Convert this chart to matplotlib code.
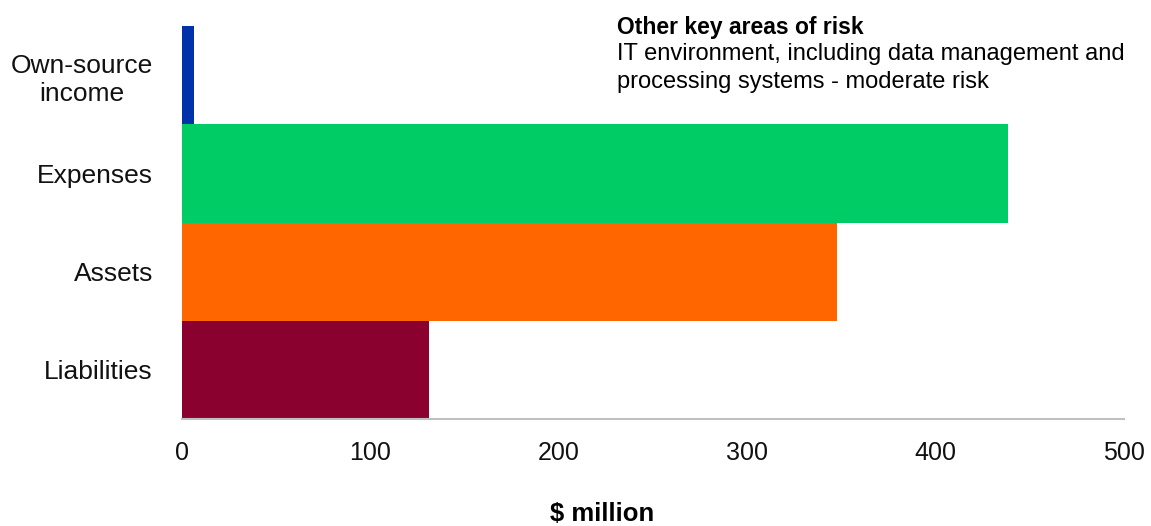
import matplotlib.pyplot as plt

plt.rcParams['font.family'] = ['Liberation Sans', 'DejaVu Sans']

# values in $ million, bottom to top
categories = ["Liabilities", "Assets", "Expenses", "Own-source\nincome"]
values = [131, 347.5, 438.5, 6.4]
colors = ["#8a002f", "#ff6600", "#00cc66", "#0033aa"]

fig = plt.figure(figsize=(11.51, 5.26), dpi=100)
ax = fig.add_axes([182 / 1151, 1 - 419 / 526, (1124 - 182) / 1151, (419 - 26) / 526])

ax.barh(range(len(categories)), values, height=1.0, color=colors)

ax.set_xlim(0, 500)
ax.set_ylim(-0.5, len(categories) - 0.5)
ax.set_xticks([0, 100, 200, 300, 400, 500])
ax.set_yticks(range(len(categories)))
ax.set_yticklabels(categories, multialignment="center", linespacing=1.25)
ax.tick_params(axis="both", length=0, colors="#111111")
ax.tick_params(axis="x", pad=16, labelsize=18)
ax.tick_params(axis="y", pad=21, labelsize=19)

for side in ["top", "right", "left"]:
    ax.spines[side].set_visible(False)
ax.spines["bottom"].set_color("#c0c0c0")
ax.spines["bottom"].set_linewidth(1.5)

fig.text(602 / 1151, 1 - 514 / 526, "$ million", ha="center", va="center",
         fontsize=18.5, fontweight="bold")

fig.text(617 / 1151, 1 - 16 / 526, "Other key areas of risk", ha="left", va="top",
         fontsize=16.5, fontweight="bold")
fig.text(617 / 1151, 1 - 43 / 526,
         "IT environment, including data management and\nprocessing systems - moderate risk",
         ha="left", va="top", fontsize=17, linespacing=1.35)

fig.savefig("out.png", dpi=100)
